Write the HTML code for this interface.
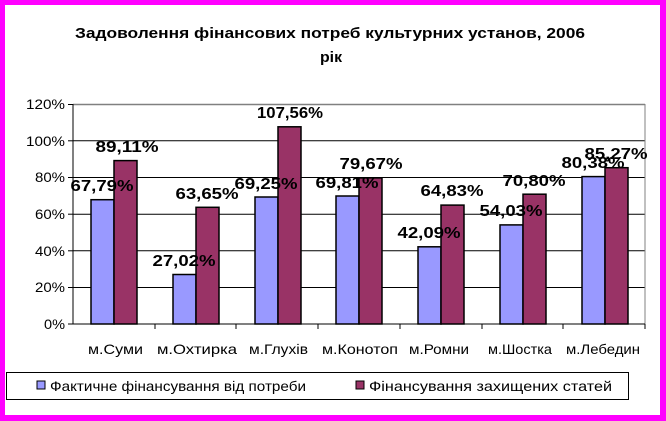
<!DOCTYPE html>
<html><head><meta charset="utf-8"><style>
body{margin:0;background:#fff}
svg{display:block;font-family:"Liberation Sans",Arial,sans-serif}
</style></head><body>
<svg width="666" height="421" viewBox="0 0 666 421">
<rect x="0" y="0" width="666" height="421" fill="#ff00ff"/>
<rect x="5" y="5" width="655" height="410" fill="#fff"/>
<text x="75" y="38" font-size="15" font-weight="bold" textLength="510" lengthAdjust="spacingAndGlyphs">Задоволення фінансових потреб культурних установ, 2006</text>
<text x="320" y="62" font-size="15" font-weight="bold" textLength="22" lengthAdjust="spacingAndGlyphs">рік</text>
<g stroke="#000" stroke-width="1">
<line x1="73" y1="287.5" x2="645" y2="287.5"/>
<line x1="73" y1="250.8" x2="645" y2="250.8"/>
<line x1="73" y1="214.2" x2="645" y2="214.2"/>
<line x1="73" y1="177.5" x2="645" y2="177.5"/>
<line x1="73" y1="140.8" x2="645" y2="140.8"/>
</g>
<line x1="73" y1="104.5" x2="645" y2="104.5" stroke="#808080" stroke-width="1.5"/>
<line x1="645" y1="104" x2="645" y2="324" stroke="#808080" stroke-width="1"/>
<g font-size="14" lengthAdjust="spacingAndGlyphs">
<text x="44" y="329" textLength="21" lengthAdjust="spacingAndGlyphs">0%</text><text x="35" y="292" textLength="30" lengthAdjust="spacingAndGlyphs">20%</text><text x="35" y="256" textLength="30" lengthAdjust="spacingAndGlyphs">40%</text>
<text x="35" y="219" textLength="30" lengthAdjust="spacingAndGlyphs">60%</text><text x="35" y="182" textLength="30" lengthAdjust="spacingAndGlyphs">80%</text><text x="26" y="146" textLength="39" lengthAdjust="spacingAndGlyphs">100%</text><text x="26" y="109" textLength="39" lengthAdjust="spacingAndGlyphs">120%</text>
</g>
<g stroke="#000" stroke-width="1">
<line x1="68" y1="324" x2="73" y2="324"/><line x1="68" y1="287.5" x2="73" y2="287.5"/><line x1="68" y1="250.8" x2="73" y2="250.8"/><line x1="68" y1="214.2" x2="73" y2="214.2"/><line x1="68" y1="177.5" x2="73" y2="177.5"/><line x1="68" y1="140.8" x2="73" y2="140.8"/><line x1="68" y1="104.5" x2="73" y2="104.5"/>
</g>
<g stroke="#000" stroke-width="1.5">
<rect x="91" y="199.7" width="23" height="124.3" fill="#9999ff"/><rect x="114" y="160.6" width="23" height="163.4" fill="#993366"/>
<rect x="173" y="274.5" width="23" height="49.5" fill="#9999ff"/><rect x="196" y="207.3" width="23" height="116.7" fill="#993366"/>
<rect x="255" y="197.0" width="23" height="127.0" fill="#9999ff"/><rect x="278" y="126.8" width="23" height="197.2" fill="#993366"/>
<rect x="336" y="196.0" width="23" height="128.0" fill="#9999ff"/><rect x="359" y="177.9" width="23" height="146.1" fill="#993366"/>
<rect x="418" y="246.8" width="23" height="77.2" fill="#9999ff"/><rect x="441" y="205.1" width="23" height="118.9" fill="#993366"/>
<rect x="500" y="224.9" width="23" height="99.1" fill="#9999ff"/><rect x="523" y="194.2" width="23" height="129.8" fill="#993366"/>
<rect x="582" y="176.6" width="23" height="147.4" fill="#9999ff"/><rect x="605" y="167.7" width="23" height="156.3" fill="#993366"/>
</g>
<line x1="73" y1="104" x2="73" y2="324" stroke="#000"/>
<line x1="73" y1="324" x2="645" y2="324" stroke="#000"/>
<g stroke="#000"><line x1="155" y1="324" x2="155" y2="329"/><line x1="236" y1="324" x2="236" y2="329"/><line x1="318" y1="324" x2="318" y2="329"/><line x1="400" y1="324" x2="400" y2="329"/><line x1="482" y1="324" x2="482" y2="329"/><line x1="563" y1="324" x2="563" y2="329"/><line x1="645" y1="324" x2="645" y2="329"/></g>
<g font-size="16" font-weight="bold" text-anchor="middle">
<text x="102" y="191" textLength="63" lengthAdjust="spacingAndGlyphs">67,79%</text><text x="127" y="152" textLength="63" lengthAdjust="spacingAndGlyphs">89,11%</text>
<text x="184" y="266" textLength="63" lengthAdjust="spacingAndGlyphs">27,02%</text><text x="207" y="199" textLength="63" lengthAdjust="spacingAndGlyphs">63,65%</text>
<text x="266" y="189" textLength="63" lengthAdjust="spacingAndGlyphs">69,25%</text><text x="290" y="118" textLength="66" lengthAdjust="spacingAndGlyphs">107,56%</text>
<text x="347" y="188" textLength="63" lengthAdjust="spacingAndGlyphs">69,81%</text><text x="371" y="169" textLength="63" lengthAdjust="spacingAndGlyphs">79,67%</text>
<text x="429" y="238" textLength="63" lengthAdjust="spacingAndGlyphs">42,09%</text><text x="452" y="196" textLength="63" lengthAdjust="spacingAndGlyphs">64,83%</text>
<text x="511" y="216" textLength="63" lengthAdjust="spacingAndGlyphs">54,03%</text><text x="534" y="186" textLength="63" lengthAdjust="spacingAndGlyphs">70,80%</text>
<text x="593" y="168" textLength="63" lengthAdjust="spacingAndGlyphs">80,38%</text><text x="616" y="159" textLength="63" lengthAdjust="spacingAndGlyphs">85,27%</text>
</g>
<g font-size="14">
<text x="88" y="354" textLength="55" lengthAdjust="spacingAndGlyphs">м.Суми</text><text x="157" y="354" textLength="80" lengthAdjust="spacingAndGlyphs">м.Охтирка</text><text x="249" y="354" textLength="59" lengthAdjust="spacingAndGlyphs">м.Глухів</text>
<text x="322" y="354" textLength="76" lengthAdjust="spacingAndGlyphs">м.Конотоп</text><text x="409" y="354" textLength="60" lengthAdjust="spacingAndGlyphs">м.Ромни</text><text x="488" y="354" textLength="64" lengthAdjust="spacingAndGlyphs">м.Шостка</text><text x="566" y="354" textLength="74" lengthAdjust="spacingAndGlyphs">м.Лебедин</text>
</g>
<rect x="6.5" y="372.5" width="622" height="27" fill="#fff" stroke="#000"/>
<rect x="37" y="381" width="8" height="8" fill="#9999ff" stroke="#000"/>
<text x="50" y="391" font-size="14" textLength="256" lengthAdjust="spacingAndGlyphs">Фактичне фінансування від потреби</text>
<rect x="356" y="381" width="8" height="8" fill="#993366" stroke="#000"/>
<text x="369" y="391" font-size="14" textLength="243" lengthAdjust="spacingAndGlyphs">Фінансування захищених статей</text>
</svg>
</body></html>
